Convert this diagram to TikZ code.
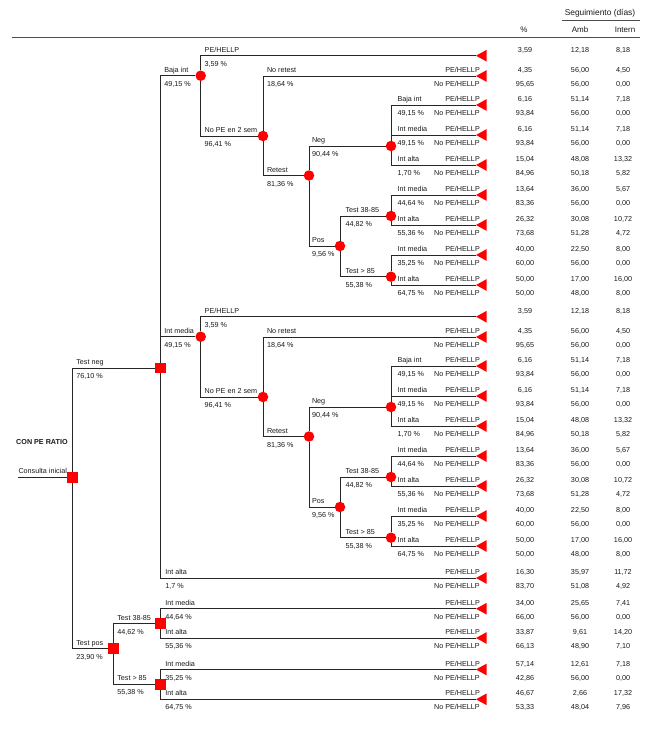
\documentclass[tikz,border=0pt]{standalone}
\usepackage{fontspec}
\setmainfont{Liberation Sans}
\tikzset{
  lab/.style={font=\fontsize{7.2}{8}\selectfont, inner sep=0pt, text=black!90},
  hdr/.style={lab, font=\fontsize{8}{9}\selectfont, anchor=base},
  nm/.style={lab, anchor=base west, xshift=3.5pt, yshift=3.5pt},
  pr/.style={lab, anchor=base west, xshift=3.5pt, yshift=-10.5pt},
  chance/.style={circle, fill=red, minimum size=10.5pt, inner sep=0pt},
  decision/.style={rectangle, fill=red, minimum size=10.5pt, inner sep=0pt},
  branch/.style={draw=black!85, line width=1pt},
  val/.style={lab, anchor=base},
  rule/.style={draw=black!70, line width=0.6pt},
}
% edge with name above and probability below
\newcommand\br[5][]{\draw[branch] (#2) |- (#3) node[nm,pos=.5,#1] (#3-n) {#4} node[pr,pos=.5,#1] (#3-p) {#5};}
% terminal triangle
\newcommand\tri[2]{\coordinate (#1) at (476,#2); \fill[red] (#1) -- ++(10.5,-5.8) -- ++(0,11.6) -- cycle;}
% one row of values
\newcommand\vrow[6]{\node[val,yshift=#3] (#1a) at (525,#2) {#4}; \node[val,yshift=#3] (#1b) at (580,#2) {#5}; \node[val,yshift=#3] (#1c) at (623,#2) {#6};}
% terminal with both outcomes
\newcommand\term[8]{\tri{#1}{#2}
  \node[lab,anchor=base east,yshift=3.5pt] (#1pe) at (480,#2) {PE/HELLP};
  \node[lab,anchor=base east,yshift=-10.5pt] (#1no) at (480,#2) {No PE/HELLP};
  \vrow{#1u}{#2}{3.5pt}{#3}{#4}{#5}
  \vrow{#1d}{#2}{-10.5pt}{#6}{#7}{#8}}
% repeated sub-tree
\newcommand\subtree[3]{%
\begin{scope}[yshift=#2]
  \node[chance] (#1n) at (200.7,75.7) {};
  \node[chance] (#1m) at (263,136) {};
  \node[chance] (#1r) at (309,175.5) {};
  \node[chance] (#1g) at (391,146) {};
  \node[chance] (#1p) at (340,246) {};
  \node[chance] (#1x) at (391,216) {};
  \node[chance] (#1y) at (391,276.7) {};
  \tri{#1t0}{55.7}
  \vrow{#1t0u}{55.7}{3.5pt}{3,59}{12,18}{8,18}
  \term{#1t1}{76}{4,35}{56,00}{4,50}{95,65}{56,00}{0,00}
  \term{#1t2}{105}{6,16}{51,14}{7,18}{93,84}{56,00}{0,00}
  \term{#1t3}{135}{6,16}{51,14}{7,18}{93,84}{56,00}{0,00}
  \term{#1t4}{165}{15,04}{48,08}{13,32}{84,96}{50,18}{5,82}
  \term{#1t5}{195}{13,64}{36,00}{5,67}{83,36}{56,00}{0,00}
  \term{#1t6}{225}{26,32}{30,08}{10,72}{73,68}{51,28}{4,72}
  \term{#1t7}{255}{40,00}{22,50}{8,00}{60,00}{56,00}{0,00}
  \term{#1t8}{285}{50,00}{17,00}{16,00}{50,00}{48,00}{8,00}
\end{scope}
  \br{dA}{#1n}{#3}{49,15 \%}
  \br{#1n}{#1t0}{PE/HELLP}{3,59 \%}
  \br{#1n}{#1m}{No PE en 2 sem}{96,41 \%}
  \br{#1m}{#1t1}{No retest}{18,64 \%}
  \br{#1m}{#1r}{Retest}{81,36 \%}
  \br[xshift=-1pt]{#1r}{#1g}{Neg}{90,44 \%}
  \br[xshift=-1pt]{#1r}{#1p}{Pos}{9,56 \%}
  \br[xshift=1.5pt]{#1p}{#1x}{Test 38-85}{44,82 \%}
  \br[xshift=1.5pt]{#1p}{#1y}{Test > 85}{55,38 \%}
  \br[xshift=2.5pt]{#1g}{#1t2}{Baja int}{49,15 \%}
  \br[xshift=2.5pt]{#1g}{#1t3}{Int media}{49,15 \%}
  \br[xshift=2.5pt]{#1g}{#1t4}{Int alta}{1,70 \%}
  \br[xshift=2.5pt]{#1x}{#1t5}{Int media}{44,64 \%}
  \br[xshift=2.5pt]{#1x}{#1t6}{Int alta}{55,36 \%}
  \br[xshift=2.5pt]{#1y}{#1t7}{Int media}{35,25 \%}
  \br[xshift=2.5pt]{#1y}{#1t8}{Int alta}{64,75 \%}
}
\begin{document}
\begin{tikzpicture}[x=1pt,y=-1pt]
\useasboundingbox (0,0) rectangle (650,731);
% header
\node[hdr,font=\fontsize{8.4}{9}\selectfont] (seg) at (600,15.5) {Seguimiento (días)};
\draw[rule,line width=0.5pt] (562,20.5) -- (640,20.5);
\node[hdr] (hp) at (524,32) {\%};
\node[hdr] (ha) at (580,32) {Amb};
\node[hdr] (hi) at (625,32) {Intern};
\draw[rule] (12,37) -- (640,37);
% title
\node[lab,font=\fontsize{7.2}{8}\selectfont\bfseries,anchor=west] (title) at (16,441.7) {CON PE RATIO};
% decision nodes
\coordinate (start) at (18,477.3);
\node[decision] (d0) at (72.3,477.3) {};
\node[decision] (dA) at (160.3,368) {};
\node[decision] (dB) at (113.3,648.7) {};
\node[decision] (dC) at (160.3,623.5) {};
\node[decision] (dD) at (160.3,684.4) {};
\draw[branch] (start) -- (d0) node[lab,anchor=base west,yshift=3.5pt,pos=0] (start-n) {Consulta inicial};
\br{d0}{dA}{Test neg}{76,10 \%}
\br{d0}{dB}{Test pos}{23,90 \%}
\subtree{U}{0pt}{Baja int}
\subtree{M}{-261pt}{Int media}
\term{T1}{578}{16,30}{35,97}{11,72}{83,70}{51,08}{4,92}
\br[xshift=1pt]{dA}{T1}{Int alta}{1,7 \%}
\br{dB}{dC}{Test 38-85}{44,62 \%}
\br{dB}{dD}{Test > 85}{55,38 \%}
\term{T2}{608.7}{34,00}{25,65}{7,41}{66,00}{56,00}{0,00}
\term{T3}{638}{33,87}{9,61}{14,20}{66,13}{48,90}{7,10}
\term{T4}{669.5}{57,14}{12,61}{7,18}{42,86}{56,00}{0,00}
\term{T5}{699.3}{46,67}{2,66}{17,32}{53,33}{48,04}{7,96}
\br[xshift=1pt]{dC}{T2}{Int media}{44,64 \%}
\br[xshift=1pt]{dC}{T3}{Int alta}{55,36 \%}
\br[xshift=1pt]{dD}{T4}{Int media}{35,25 \%}
\br[xshift=1pt]{dD}{T5}{Int alta}{64,75 \%}
\end{tikzpicture}
\end{document}
